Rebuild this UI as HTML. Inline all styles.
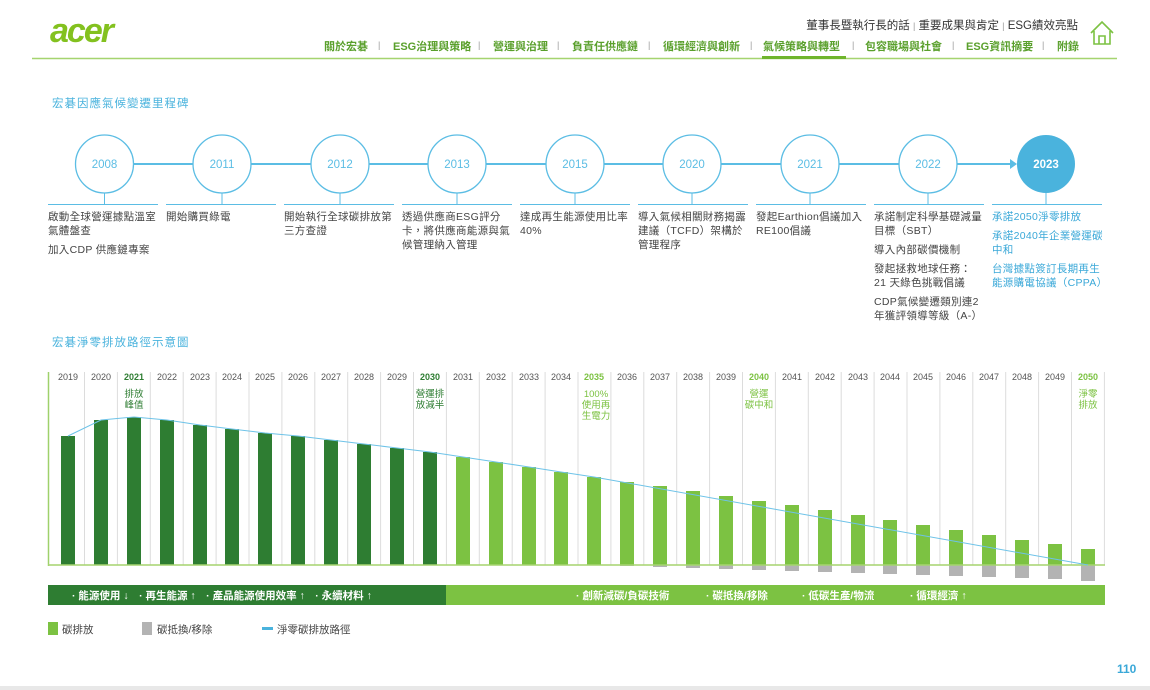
<!DOCTYPE html>
<html><head><meta charset="utf-8"><style>
*{margin:0;padding:0;box-sizing:border-box}
body{width:1150px;height:690px;background:#fff;position:relative;overflow:hidden;font-family:"Liberation Sans","Noto Sans CJK TC",sans-serif}
.a{position:absolute;white-space:nowrap}
.nav{font-size:11px;font-weight:bold;color:#5aa02c;top:38px}
.sep{color:#999;font-size:9px;top:40px}
.tl{position:absolute;top:210px;width:114px;font-size:10.5px;line-height:14px;color:#444;letter-spacing:0.3px}
.tl p{margin-bottom:5px}
.tl.b{color:#3aa8d8}
</style></head><body>
<div class="a" style="left:50px;top:12px;font-size:34px;font-style:italic;font-weight:bold;color:#83c11f;letter-spacing:-2px">acer</div>
<div class="a" style="right:72px;top:17px;font-size:11.5px;color:#333">董事長暨執行長的話 <span style="color:#999;font-size:9px">|</span> 重要成果與肯定 <span style="color:#999;font-size:9px">|</span> ESG績效亮點</div>
<div class="a nav" style="left:324px">關於宏碁</div>
<div class="a sep" style="left:378px">|</div>
<div class="a nav" style="left:393px">ESG治理與策略</div>
<div class="a sep" style="left:478px">|</div>
<div class="a nav" style="left:493px">營運與治理</div>
<div class="a sep" style="left:557px">|</div>
<div class="a nav" style="left:572px">負責任供應鏈</div>
<div class="a sep" style="left:648px">|</div>
<div class="a nav" style="left:663px">循環經濟與創新</div>
<div class="a sep" style="left:750px">|</div>
<div class="a nav" style="left:763px">氣候策略與轉型</div>
<div class="a sep" style="left:852px">|</div>
<div class="a nav" style="left:865px">包容職場與社會</div>
<div class="a sep" style="left:952px">|</div>
<div class="a nav" style="left:966px">ESG資訊摘要</div>
<div class="a sep" style="left:1042px">|</div>
<div class="a nav" style="left:1057px">附錄</div>
<svg class="a" style="left:0;top:0" width="1150" height="690">
<line x1="32" y1="58.5" x2="1117" y2="58.5" stroke="#a5d46f" stroke-width="1.5"/>
<rect x="762" y="56" width="84" height="3" fill="#6fb52c"/>
<path d="M1091 33 L1102 22 L1113 33 M1094 31 V44 H1110 V31 M1099 44 V36 H1105 V44" fill="none" stroke="#7cc242" stroke-width="1.6"/>
<line x1="104" y1="164" x2="1010" y2="164" stroke="#5bbde4" stroke-width="2"/>
<path d="M1010 159 L1017 164 L1010 169Z" fill="#5bbde4"/>
<g fill="#fff" stroke="#5bbde4" stroke-width="1.3">
<circle cx="104.5" cy="164" r="29"/><circle cx="222" cy="164" r="29"/><circle cx="340" cy="164" r="29"/><circle cx="457" cy="164" r="29"/><circle cx="575" cy="164" r="29"/><circle cx="692" cy="164" r="29"/><circle cx="810" cy="164" r="29"/><circle cx="928" cy="164" r="29"/>
</g>
<circle cx="1046" cy="164" r="29" fill="#4ab3dd"/>
<g font-size="11.5" fill="#5bbde4" text-anchor="middle" font-family="Liberation Sans,sans-serif">
<text x="104.5" y="168">2008</text><text x="222" y="168">2011</text><text x="340" y="168">2012</text><text x="457" y="168">2013</text><text x="575" y="168">2015</text><text x="692" y="168">2020</text><text x="810" y="168">2021</text><text x="928" y="168">2022</text>
<text x="1046" y="168" fill="#fff" font-weight="bold">2023</text>
</g>
<g stroke="#5bbde4" stroke-width="1">
<line x1="48" y1="204.5" x2="158" y2="204.5"/><line x1="104.5" y1="193" x2="104.5" y2="204"/>
<line x1="166" y1="204.5" x2="276" y2="204.5"/><line x1="222" y1="193" x2="222" y2="204"/>
<line x1="284" y1="204.5" x2="394" y2="204.5"/><line x1="340" y1="193" x2="340" y2="204"/>
<line x1="402" y1="204.5" x2="512" y2="204.5"/><line x1="457" y1="193" x2="457" y2="204"/>
<line x1="520" y1="204.5" x2="630" y2="204.5"/><line x1="575" y1="193" x2="575" y2="204"/>
<line x1="638" y1="204.5" x2="748" y2="204.5"/><line x1="692" y1="193" x2="692" y2="204"/>
<line x1="756" y1="204.5" x2="866" y2="204.5"/><line x1="810" y1="193" x2="810" y2="204"/>
<line x1="874" y1="204.5" x2="984" y2="204.5"/><line x1="928" y1="193" x2="928" y2="204"/>
<line x1="992" y1="204.5" x2="1102" y2="204.5"/><line x1="1046" y1="193" x2="1046" y2="204"/>
</g>
<g stroke="#dcdcdc" stroke-width="1">
<path d="M84.5 372V565M117.4 372V565M150.3 372V565M183.2 372V565M216.1 372V565M249 372V565M281.9 372V565M314.8 372V565M347.7 372V565M380.6 372V565M413.5 372V565M446.4 372V565M479.3 372V565M512.2 372V565M545.1 372V565M578 372V565M610.9 372V565M643.8 372V565M676.7 372V565M709.6 372V565M742.5 372V565M775.4 372V565M808.3 372V565M841.2 372V565M874.1 372V565M907 372V565M939.9 372V565M972.8 372V565M1005.7 372V565M1038.6 372V565M1071.5 372V565M1104.4 372V565"/>
</g>
<line x1="48.5" y1="372" x2="48.5" y2="566" stroke="#9fd16b" stroke-width="1.5"/>
<g fill="#2e7d32">
<rect x="61" y="436" width="14" height="129"/><rect x="94" y="420" width="14" height="145"/><rect x="127" y="417" width="14" height="148"/><rect x="160" y="420" width="14" height="145"/><rect x="193" y="425" width="14" height="140"/><rect x="225" y="429" width="14" height="136"/><rect x="258" y="433" width="14" height="132"/><rect x="291" y="436" width="14" height="129"/><rect x="324" y="440" width="14" height="125"/><rect x="357" y="444" width="14" height="121"/><rect x="390" y="448" width="14" height="117"/><rect x="423" y="452" width="14" height="113"/>
</g>
<g fill="#7cc242">
<rect x="456" y="457" width="14" height="108"/><rect x="489" y="462" width="14" height="103"/><rect x="522" y="467" width="14" height="98"/><rect x="554" y="472" width="14" height="93"/><rect x="587" y="477" width="14" height="88"/><rect x="620" y="482" width="14" height="83"/><rect x="653" y="486" width="14" height="79"/><rect x="686" y="491" width="14" height="74"/><rect x="719" y="496" width="14" height="69"/><rect x="752" y="501" width="14" height="64"/><rect x="785" y="505" width="14" height="60"/><rect x="818" y="510" width="14" height="55"/><rect x="851" y="515" width="14" height="50"/><rect x="883" y="520" width="14" height="45"/><rect x="916" y="525" width="14" height="40"/><rect x="949" y="530" width="14" height="35"/><rect x="982" y="535" width="14" height="30"/><rect x="1015" y="540" width="14" height="25"/><rect x="1048" y="544" width="14" height="21"/><rect x="1081" y="549" width="14" height="16"/>
</g>
<g fill="#b3b3b3">
<rect x="620" y="565" width="14" height="1"/><rect x="653" y="565" width="14" height="2"/><rect x="686" y="565" width="14" height="3"/><rect x="719" y="565" width="14" height="4"/><rect x="752" y="565" width="14" height="5"/><rect x="785" y="565" width="14" height="6"/><rect x="818" y="565" width="14" height="7"/><rect x="851" y="565" width="14" height="8"/><rect x="883" y="565" width="14" height="9"/><rect x="916" y="565" width="14" height="10"/><rect x="949" y="565" width="14" height="11"/><rect x="982" y="565" width="14" height="12"/><rect x="1015" y="565" width="14" height="13"/><rect x="1048" y="565" width="14" height="14"/><rect x="1081" y="565" width="14" height="16"/>
</g>
<line x1="48" y1="565" x2="1105" y2="565" stroke="#a5d46f" stroke-width="1.5"/>
<polyline fill="none" stroke="#6ec3e8" stroke-width="1" points="68,436 101,420 134,417 167,420 200,425 232,429 265,433 298,436 331,440 364,444 397,448 430,452 463,457 496,462 529,467 561,472 594,477 1088,565"/>
<g font-size="9" fill="#555" text-anchor="middle" font-family="Liberation Sans,sans-serif">
<text x="68" y="380">2019</text><text x="101" y="380">2020</text><text x="134" y="380" fill="#2e7d32" font-weight="bold">2021</text><text x="167" y="380">2022</text><text x="200" y="380">2023</text><text x="232" y="380">2024</text><text x="265" y="380">2025</text><text x="298" y="380">2026</text><text x="331" y="380">2027</text><text x="364" y="380">2028</text><text x="397" y="380">2029</text><text x="430" y="380" fill="#2e7d32" font-weight="bold">2030</text><text x="463" y="380">2031</text><text x="496" y="380">2032</text><text x="529" y="380">2033</text><text x="561" y="380">2034</text><text x="594" y="380" fill="#7cc242" font-weight="bold">2035</text><text x="627" y="380">2036</text><text x="660" y="380">2037</text><text x="693" y="380">2038</text><text x="726" y="380">2039</text><text x="759" y="380" fill="#7cc242" font-weight="bold">2040</text><text x="792" y="380">2041</text><text x="825" y="380">2042</text><text x="858" y="380">2043</text><text x="890" y="380">2044</text><text x="923" y="380">2045</text><text x="956" y="380">2046</text><text x="989" y="380">2047</text><text x="1022" y="380">2048</text><text x="1055" y="380">2049</text><text x="1088" y="380" fill="#7cc242" font-weight="bold">2050</text>
</g>
<g font-size="9.5" text-anchor="middle" font-family="Liberation Sans,Noto Sans CJK TC,sans-serif">
<text x="134" y="397" fill="#2e7d32">排放</text><text x="134" y="408" fill="#2e7d32">峰值</text>
<text x="430" y="397" fill="#2e7d32">營運排</text><text x="430" y="408" fill="#2e7d32">放減半</text>
<text x="596" y="397" fill="#7cc242">100%</text><text x="596" y="408" fill="#7cc242">使用再</text><text x="596" y="419" fill="#7cc242">生電力</text>
<text x="759" y="397" fill="#7cc242">營運</text><text x="759" y="408" fill="#7cc242">碳中和</text>
<text x="1088" y="397" fill="#7cc242">淨零</text><text x="1088" y="408" fill="#7cc242">排放</text>
</g>
<rect x="48" y="585" width="398" height="20" fill="#2e7d32"/>
<rect x="446" y="585" width="659" height="20" fill="#7cc242"/>
<g font-size="10.5" fill="#fff" font-weight="bold" font-family="Liberation Sans,Noto Sans CJK TC,sans-serif">
<text x="72" y="599">· 能源使用 ↓　· 再生能源 ↑　· 產品能源使用效率 ↑　· 永續材料 ↑</text>
<text x="576" y="599">· 創新減碳/負碳技術</text><text x="706" y="599">· 碳抵換/移除</text><text x="802" y="599">· 低碳生產/物流</text><text x="910" y="599">· 循環經濟 ↑</text>
</g>
<rect x="48" y="622" width="10" height="13" fill="#7cc242"/>
<rect x="142" y="622" width="10" height="13" fill="#b3b3b3"/>
<rect x="262" y="627" width="11" height="3" fill="#4ab3dd"/>
<g font-size="10.5" fill="#444" font-family="Liberation Sans,Noto Sans CJK TC,sans-serif">
<text x="62" y="633">碳排放</text><text x="157" y="633">碳抵換/移除</text><text x="277" y="633">淨零碳排放路徑</text>
</g>
<text x="1117" y="673" font-size="12" font-weight="bold" fill="#3aa8d8" font-family="Liberation Sans,sans-serif">110</text>
<rect x="0" y="686" width="1150" height="4" fill="#e8e8e8"/>
</svg>
<div class="a" style="left:52px;top:95px;font-size:11.5px;color:#4ab3dd;letter-spacing:1px">宏碁因應氣候變遷里程碑</div>
<div class="a" style="left:52px;top:334px;font-size:11.5px;color:#4ab3dd;letter-spacing:1px">宏碁淨零排放路徑示意圖</div>
<div class="tl" style="left:48px"><p>啟動全球營運據點溫室氣體盤查</p><p>加入CDP 供應鏈專案</p></div>
<div class="tl" style="left:166px"><p>開始購買綠電</p></div>
<div class="tl" style="left:284px"><p>開始執行全球碳排放第三方查證</p></div>
<div class="tl" style="left:402px"><p>透過供應商ESG評分卡，將供應商能源與氣候管理納入管理</p></div>
<div class="tl" style="left:520px"><p>達成再生能源使用比率40%</p></div>
<div class="tl" style="left:638px"><p>導入氣候相關財務揭露建議（TCFD）架構於管理程序</p></div>
<div class="tl" style="left:756px"><p>發起Earthion倡議加入RE100倡議</p></div>
<div class="tl" style="left:874px"><p>承諾制定科學基礎減量目標（SBT）</p><p>導入內部碳價機制</p><p>發起拯救地球任務：<br>21 天綠色挑戰倡議</p><p>CDP氣候變遷類別連2年獲評領導等級（A-）</p></div>
<div class="tl b" style="left:992px"><p>承諾2050淨零排放</p><p>承諾2040年企業營運碳中和</p><p>台灣據點簽訂長期再生能源購電協議（CPPA）</p></div>
</body></html>
